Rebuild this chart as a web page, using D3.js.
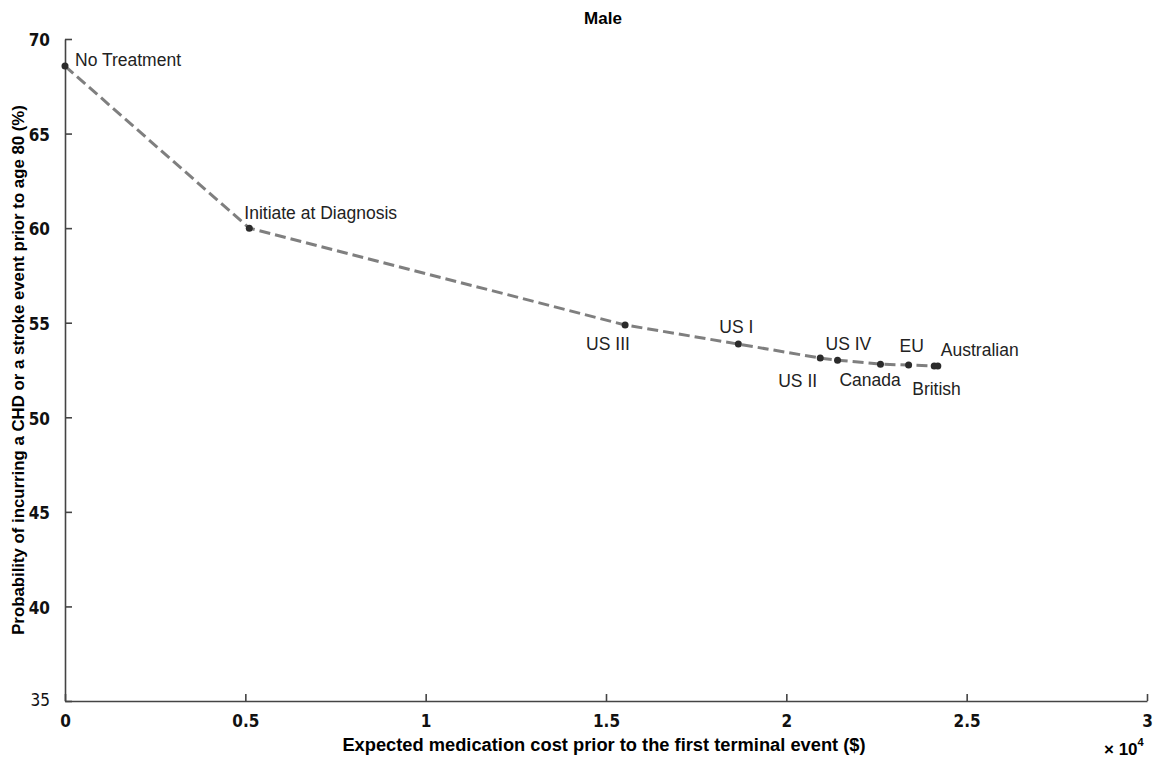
<!DOCTYPE html>
<html lang="en">
<head>
  <meta charset="utf-8">
  <title>Male</title>
  <script src="https://d3js.org/d3.v7.min.js"></script>
  <style type="text/css">
    body { margin: 0; background: #fff; }
    .tick text { font-family: "Liberation Sans Narrow", "Arial Narrow", "DejaVu Sans Condensed", sans-serif; font-weight: bold; font-size: 17px; fill: #111; }
    .lbl { font-family: "Liberation Sans", Arial, sans-serif; font-size: 17.5px; fill: #222; }
  </style>
</head>
<body>
  <div id="chart"></div>
  <script type="text/javascript">
    // strategies, cost (x 10^4 $) and probability (%)
    const names = ["No Treatment", "Initiate at Diagnosis", "US III", "US I", "US II", "US IV", "Canada", "EU", "British", "Australian"];
    const cost = [0, 0.511, 1.553, 1.867, 2.094, 2.142, 2.261, 2.339, 2.41, 2.42];
    const prob = [68.57, 60.0, 54.88, 53.87, 53.13, 53.02, 52.81, 52.76, 52.71, 52.71];
    const xTicks = [0, 0.5, 1, 1.5, 2, 2.5, 3];
    const yTicks = [35, 40, 45, 50, 55, 60, 65, 70];

    // where each label sits relative to its point
    const labelOffset = {
      "No Treatment": [10, 0],
      "Initiate at Diagnosis": [-5, -9],
      "US III": [-39, 25],
      "US I": [-19, -11],
      "US II": [-42, 29],
      "US IV": [-12, -10],
      "Canada": [-41, 22],
      "EU": [-9, -13],
      "British": [-22, 29],
      "Australian": [3, -10]
    };

    const w = 1153, h = 760;
    const mLeft = 65, mRight = 1147, mTop = 39, mBottom = 701;

    const data = names.map((n, i) => ({name: n, x: cost[i], y: prob[i]}));

    const x = d3.scaleLinear().domain([0, 3]).range([mLeft, mRight]);
    const y = d3.scaleLinear().domain([35, 70]).range([mBottom, mTop]);

    const svg = d3.select("#chart").append("svg")
      .attr("width", w)
      .attr("height", h);

    const bottomAxis = d3.axisBottom(x).tickValues(xTicks)
      .tickFormat(d => d3.format("")(d))
      .tickSizeInner(-7).tickSizeOuter(0).tickPadding(14);
    const gx = svg.append("g")
      .attr("transform", "translate(0," + mBottom + ")")
      .call(bottomAxis);

    const leftAxis = d3.axisLeft(y).tickValues(yTicks)
      .tickSizeInner(-7).tickSizeOuter(0).tickPadding(15);
    const gy = svg.append("g")
      .attr("transform", "translate(" + mLeft + ",0)")
      .call(leftAxis);

    [gx, gy].forEach(g => {
      g.select(".domain").attr("stroke", "#444").attr("stroke-width", 1.6);
      g.selectAll(".tick line").attr("stroke", "#444").attr("stroke-width", 1.6);
    });
    gy.selectAll(".tick text").attr("dy", "0.4em");
    gy.selectAll(".tick").filter(d => d === 35).select("text")
      .style("font-weight", "normal").attr("dy", "0.25em");

    const line = d3.line().x(d => x(d.x)).y(d => y(d.y));
    svg.append("path")
      .datum(data)
      .attr("d", line)
      .attr("fill", "none")
      .attr("stroke", "#7f7f7f")
      .attr("stroke-width", 3)
      .attr("stroke-dasharray", "11,5");

    svg.selectAll("circle.pt")
      .data(data)
      .enter().append("circle")
      .attr("class", "pt")
      .attr("cx", d => x(d.x))
      .attr("cy", d => y(d.y))
      .attr("r", 3.5)
      .attr("fill", "#2b2b2b");

    svg.selectAll("text.lbl")
      .data(data)
      .enter().append("text")
      .attr("class", "lbl")
      .attr("x", d => x(d.x) + labelOffset[d.name][0])
      .attr("y", d => y(d.y) + labelOffset[d.name][1])
      .text(d => d.name);

    svg.append("text")
      .attr("x", 603).attr("y", 24)
      .style("text-anchor", "middle")
      .style("font-family", "Liberation Sans, Arial, sans-serif")
      .style("font-weight", "bold").style("font-size", "17px")
      .text("Male");

    svg.append("text")
      .attr("x", 604).attr("y", 751)
      .style("text-anchor", "middle")
      .style("font-family", "Liberation Sans Narrow, Arial Narrow, sans-serif")
      .style("font-weight", "bold").style("font-size", "18.3px")
      .text("Expected medication cost prior to the first terminal event ($)");

    svg.append("text")
      .attr("transform", "translate(24," + 370 + ") rotate(-90)")
      .style("text-anchor", "middle")
      .style("font-family", "Liberation Sans Narrow, Arial Narrow, sans-serif")
      .style("font-weight", "bold").style("font-size", "16.8px")
      .text("Probability of incurring a CHD or a stroke event prior to age 80 (%)");

    const mult = svg.append("text")
      .attr("x", 1104).attr("y", 755)
      .style("font-family", "Liberation Sans Narrow, Arial Narrow, sans-serif")
      .style("font-weight", "bold").style("font-size", "17px");
    mult.append("tspan").text("\u00d7 10");
    mult.append("tspan").attr("dy", -9).style("font-size", "11px").text("4");
  </script>
</body>
</html>
